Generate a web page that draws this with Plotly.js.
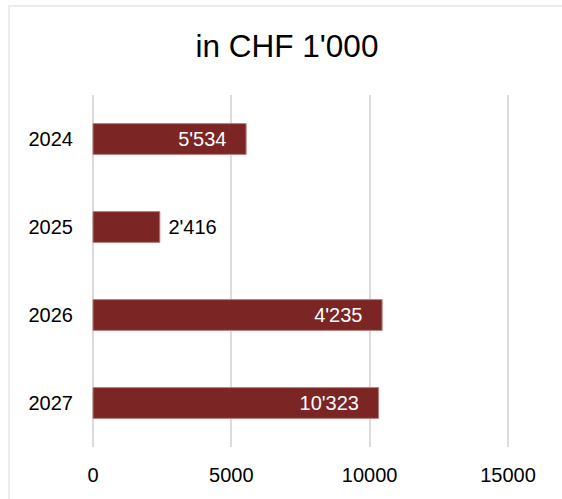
<!DOCTYPE html>
<html>
<head>
<meta charset="utf-8">
<script src="https://cdn.plot.ly/plotly-3.0.1.min.js"></script>
<style>
  html, body { margin: 0; padding: 0; background: #fff; }
  #frame { position: absolute; left: 8px; top: 5px; width: 700px; height: 700px;
           border: 2px solid #ececec; box-sizing: border-box; }
  #chart { position: absolute; left: 0; top: 0; width: 562px; height: 499px; }
</style>
</head>
<body>
<div id="frame"></div>
<div id="chart"></div>
<script>
// Data
var years = ['2024', '2025', '2026', '2027'];
var values = [5534, 2416, 10450, 10323];
var labels = ["5'534", "2'416", "4'235", "10'323"];
var labelPositions = ['inside', 'outside', 'inside', 'inside'];
var xTicks = [0, 5000, 10000, 15000];

var font = 'Liberation Sans, Arial, Helvetica, sans-serif';
var pad = '\u00a0\u00a0\u00a0';
var texts = labels.map(function (l, i) {
  return labelPositions[i] === 'inside' ? l + pad : '\u00a0' + l;
});
var textColors = labelPositions.map(function (p) { return p === 'inside' ? '#ffffff' : '#000000'; });

var trace = {
  type: 'bar',
  orientation: 'h',
  y: years,
  x: values,
  width: 0.35,
  marker: { color: '#7b2525', line: { color: '#b88080', width: 1 } },
  text: texts,
  textposition: labelPositions,
  insidetextanchor: 'end',
  textangle: 0,
  constraintext: 'none',
  cliponaxis: false,
  textfont: { family: font, size: 20, color: textColors },
  insidetextfont: { family: font, size: 20, color: '#ffffff' },
  outsidetextfont: { family: font, size: 20, color: '#000000' },
  hoverinfo: 'none'
};

var layout = {
  width: 562,
  height: 499,
  margin: { l: 91, r: 52, t: 95, b: 52, pad: 0 },
  paper_bgcolor: 'rgba(0,0,0,0)',
  plot_bgcolor: 'rgba(0,0,0,0)',
  showlegend: false,
  title: {
    text: "in CHF 1'000",
    font: { family: font, size: 31.5, color: '#000000' },
    x: 287 / 562, xref: 'container', xanchor: 'center',
    y: 1 - 46 / 499, yref: 'container', yanchor: 'middle'
  },
  xaxis: {
    range: [-72, 15072],
    tickvals: xTicks,
    ticktext: xTicks.map(String),
    showgrid: true,
    gridcolor: '#dcdcdc',
    gridwidth: 2,
    zeroline: false,
    showline: false,
    ticks: '',
    ticklabelstandoff: 14,
    tickfont: { family: font, size: 20, color: '#000000' },
    fixedrange: true
  },
  yaxis: {
    type: 'category',
    categoryorder: 'array',
    categoryarray: years,
    autorange: 'reversed',
    showgrid: false,
    zeroline: false,
    showline: false,
    ticks: '',
    ticklabelstandoff: 17,
    tickfont: { family: font, size: 20, color: '#000000' },
    fixedrange: true
  }
};

Plotly.newPlot('chart', [trace], layout, { displayModeBar: false, staticPlot: true });
</script>
</body>
</html>
